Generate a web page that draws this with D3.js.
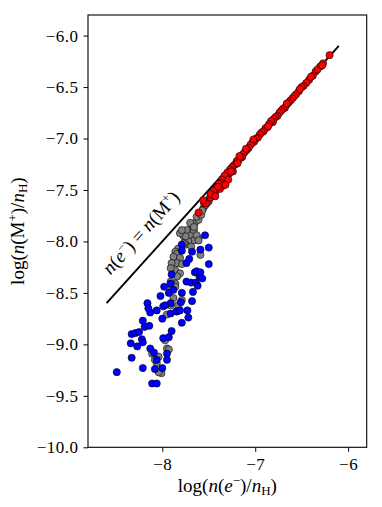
<!DOCTYPE html>
<html><head><meta charset="utf-8">
<script src="https://cdn.jsdelivr.net/npm/d3@7"></script>
<style>body{margin:0;background:#fff;} text{font-family:"Liberation Serif","Times New Roman",serif;}</style>
</head><body>
<svg id="chart" width="382" height="507"></svg>
<script>
// Data (log n(e-)/nH, log n(M+)/nH)
const redX = [-6.20,-6.27,-6.30,-6.35,-6.38,-6.42,-6.45,-6.48,-6.50,-6.53,-6.56,-6.58,-6.60,-6.62,-6.64,-6.66,-6.68,-6.70,-6.72,-6.74,-6.76,-6.78,-6.80,-6.81,-6.83,-6.85,-6.87,-6.89,-6.91,-6.93,-6.95,-6.97,-6.99,-7.01,-7.03,-7.05,-7.07,-7.09,-7.11,-7.13,-7.14,-7.16,-7.18,-7.20,-7.21,-7.23,-7.25,-7.24,-7.27,-7.28,-7.30,-7.31,-7.33,-7.34,-7.36,-7.37,-7.39,-7.40,-7.42,-7.43,-7.45,-7.46,-7.48,-7.55,-7.61,-6.86,-6.66,-6.52,-6.40,-6.33,-6.28,-7.02,-7.10,-7.17,-7.19,-7.26,-7.35,-7.38,-7.29,-7.32,-7.53,-7.48,-7.43,-7.56,-7.40];
const redY = [-6.19,-6.27,-6.30,-6.35,-6.39,-6.43,-6.46,-6.49,-6.50,-6.54,-6.57,-6.59,-6.61,-6.63,-6.65,-6.67,-6.70,-6.71,-6.73,-6.75,-6.78,-6.79,-6.81,-6.84,-6.83,-6.86,-6.89,-6.90,-6.93,-6.94,-6.96,-6.99,-7.00,-7.03,-7.04,-7.06,-7.09,-7.11,-7.13,-7.15,-7.18,-7.19,-7.21,-7.22,-7.25,-7.26,-7.28,-7.32,-7.30,-7.34,-7.33,-7.37,-7.36,-7.41,-7.40,-7.43,-7.44,-7.47,-7.48,-7.52,-7.51,-7.55,-7.57,-7.63,-7.72,-6.88,-6.66,-6.52,-6.40,-6.33,-6.29,-7.01,-7.10,-7.17,-7.24,-7.32,-7.46,-7.49,-7.40,-7.45,-7.63,-7.54,-7.56,-7.60,-7.47];
const grayX = [-7.77,-7.74,-7.70,-7.66,-7.68,-7.65,-7.61,-7.63,-7.58,-7.56,-7.54,-7.50,-7.49,-7.66,-7.72,-7.75,-7.61,-7.69,-7.70,-7.66,-7.74,-7.75,-7.63,-7.61,-7.77,-7.83,-7.86,-7.84,-7.88,-7.81,-7.84,-7.90,-7.79,-7.59,-7.86,-7.91,-7.81,-7.84,-7.86,-7.90,-7.88,-7.83,-7.91,-7.84,-7.79,-7.91,-7.86,-7.95,-8.04,-8.06,-8.01,-8.04,-8.11,-7.95,-7.97,-7.93,-8.08,-7.81,-7.79,-7.57,-7.52];
const grayY = [-7.95,-7.92,-7.94,-7.89,-7.84,-7.82,-7.79,-7.76,-7.74,-7.68,-7.65,-7.61,-7.58,-7.99,-8.00,-8.03,-7.97,-8.05,-7.82,-7.86,-7.89,-7.95,-7.94,-7.99,-8.02,-8.07,-8.10,-8.12,-8.15,-8.16,-8.21,-8.21,-8.22,-8.13,-8.28,-8.26,-8.31,-8.34,-8.41,-8.46,-8.55,-8.62,-8.62,-8.68,-8.57,-8.39,-8.44,-8.71,-9.12,-9.18,-9.28,-9.27,-9.09,-9.04,-8.96,-9.05,-9.15,-7.92,-7.89,-7.70,-7.63];
const blueX = [-8.49,-8.34,-8.33,-8.33,-8.29,-8.27,-8.25,-8.22,-8.21,-8.21,-8.19,-8.16,-8.13,-8.14,-8.15,-8.13,-8.09,-8.11,-8.06,-8.08,-8.06,-8.06,-8.02,-8.00,-8.00,-7.99,-7.98,-7.99,-7.95,-7.95,-7.93,-7.93,-7.91,-7.91,-7.90,-7.90,-7.88,-7.85,-7.81,-7.79,-7.79,-7.80,-7.79,-7.79,-7.74,-7.74,-7.73,-7.72,-7.71,-7.68,-7.69,-7.68,-7.67,-7.65,-7.64,-7.63,-7.62,-7.60,-7.59,-7.57,-7.54,-7.50,-7.50,-7.59,-7.97,-7.91,-8.21];
const blueY = [-9.27,-8.99,-9.13,-8.90,-8.89,-9.02,-8.88,-8.95,-8.77,-9.23,-8.83,-8.60,-8.69,-8.82,-8.65,-9.04,-9.08,-9.38,-9.38,-9.24,-8.67,-9.15,-8.53,-9.23,-8.75,-8.63,-8.44,-8.94,-9.09,-9.15,-8.93,-8.50,-8.60,-8.41,-8.32,-8.87,-8.47,-8.68,-8.67,-8.50,-8.79,-8.59,-8.03,-8.09,-8.21,-8.39,-8.67,-8.74,-8.17,-8.10,-8.40,-8.58,-8.49,-8.30,-8.40,-8.29,-8.43,-8.34,-8.08,-8.36,-7.94,-8.06,-8.22,-8.30,-8.62,-8.70,-8.98];
const lineX = [-8.6, -6.1];
const xTicks = [-8, -7, -6];
const yTicks = [-10.0, -9.5, -9.0, -8.5, -8.0, -7.5, -7.0, -6.5, -6.0];

const FONT = '"Liberation Serif", "Times New Roman", serif';
const svg = d3.select('#chart');
const m = {left: 88, top: 15, right: 15.3, bottom: 59.7};
const W = 382 - m.left - m.right, H = 507 - m.top - m.bottom;
const x = d3.scaleLinear().domain([-8.8, -5.8]).range([0, W]);
const y = d3.scaleLinear().domain([-10, -5.8]).range([H, 0]);
const g = svg.append('g').attr('transform', `translate(${m.left},${m.top})`);

const minus = s => s.replace('-', '\u2212');
const xAxis = g.append('g').attr('transform', `translate(0,${H})`)
  .call(d3.axisBottom(x).tickValues(xTicks).tickSize(4.5).tickPadding(6).tickFormat(d => minus(String(d))));
const yAxis = g.append('g')
  .call(d3.axisLeft(y).tickValues(yTicks).tickSize(4.5).tickPadding(5).tickFormat(d => minus(d3.format('.1f')(d))));
[xAxis, yAxis].forEach(a => {
  a.attr('font-family', FONT);
  a.select('.domain').remove();
  a.selectAll('line').attr('stroke', '#000').attr('stroke-width', 1);
  a.selectAll('text').style('font-family', FONT).attr('font-size', 17).attr('letter-spacing', 0.5).attr('fill', '#000');
});

// line n(e-) = n(M+)
g.append('line').attr('x1', x(lineX[0])).attr('y1', y(lineX[0])).attr('x2', x(lineX[1])).attr('y2', y(lineX[1]))
  .attr('stroke', '#000').attr('stroke-width', 1.9);

function dots(xs, ys, col) {
  g.append('g').selectAll('circle').data(xs).join('circle')
    .attr('cx', d => x(d)).attr('cy', (d, i) => y(ys[i])).attr('r', 3.6)
    .attr('fill', col).attr('stroke', '#000').attr('stroke-width', 0.6);
}
dots(grayX, grayY, '#808080');
dots(blueX, blueY, '#0000ff');
dots(redX, redY, '#ff0000');

// frame
g.append('rect').attr('x', 0).attr('y', 0).attr('width', W).attr('height', H)
  .attr('fill', 'none').attr('stroke', '#000').attr('stroke-width', 1.1);

// annotation
const ang = Math.atan2(y(-6.1) - y(-8.6), x(-6.1) - x(-8.6)) * 180 / Math.PI;
const ann = g.append('text').attr('transform', `translate(${x(-8.18)},${y(-7.955)}) rotate(${ang})`)
  .attr('text-anchor', 'middle').attr('font-size', 19).attr('fill', '#000').style('font-family', FONT);
ann.append('tspan').attr('font-style', 'italic').text('n');
ann.append('tspan').text('(');
ann.append('tspan').attr('font-style', 'italic').text('e');
ann.append('tspan').attr('font-size', 13).attr('dy', -7).text('\u2212');
ann.append('tspan').attr('dy', 7).text(') = ');
ann.append('tspan').attr('font-style', 'italic').text('n');
ann.append('tspan').text('(M');
ann.append('tspan').attr('font-size', 13).attr('dy', -7).text('+');
ann.append('tspan').attr('dy', 7).text(')');

// x label
const xl = svg.append('text').attr('x', m.left + W / 2).attr('y', 492).attr('text-anchor', 'middle').attr('font-size', 19).style('font-family', FONT);
xl.append('tspan').text('log(');
xl.append('tspan').attr('font-style', 'italic').text('n');
xl.append('tspan').text('(');
xl.append('tspan').attr('font-style', 'italic').text('e');
xl.append('tspan').attr('font-size', 13).attr('dy', -7).text('\u2212');
xl.append('tspan').attr('dy', 7).text(')/');
xl.append('tspan').attr('font-style', 'italic').text('n');
xl.append('tspan').attr('font-size', 13).attr('dy', 3).text('H');
xl.append('tspan').attr('dy', -3).text(')');

// y label
const yl = svg.append('text').attr('transform', `translate(24,${m.top + H / 2}) rotate(-90)`).attr('text-anchor', 'middle').attr('font-size', 19).style('font-family', FONT);
yl.append('tspan').text('log(');
yl.append('tspan').attr('font-style', 'italic').text('n');
yl.append('tspan').text('(M');
yl.append('tspan').attr('font-size', 13).attr('dy', -7).text('+');
yl.append('tspan').attr('dy', 7).text(')/');
yl.append('tspan').attr('font-style', 'italic').text('n');
yl.append('tspan').attr('font-size', 13).attr('dy', 3).text('H');
yl.append('tspan').attr('dy', -3).text(')');
</script>
</body></html>
